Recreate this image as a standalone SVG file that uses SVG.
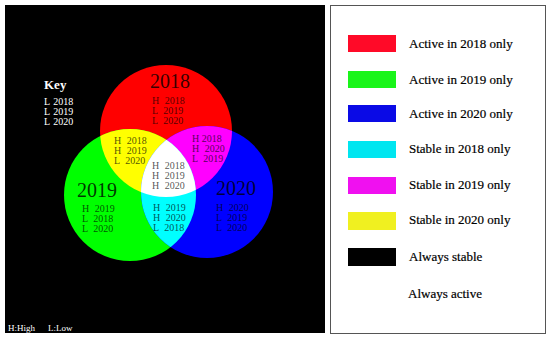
<svg xmlns="http://www.w3.org/2000/svg" width="550" height="340" viewBox="0 0 550 340">
<style>
.t{font-family:"Liberation Serif","Times New Roman",serif;font-size:10px;fill:#000;fill-opacity:0.7;word-spacing:3px}
.big{font-family:"Liberation Serif","Times New Roman",serif;font-size:20px;fill:#000;fill-opacity:0.8;text-anchor:middle}
.w{font-family:"Liberation Serif","Times New Roman",serif;fill:#fff}
.lg{font-family:"Liberation Serif","Times New Roman",serif;font-size:13px;fill:#000;stroke:#000;stroke-width:0.2px}
</style>
<defs>
<clipPath id="cR"><circle cx="166" cy="131" r="66"/></clipPath>
<clipPath id="cG"><circle cx="130" cy="195" r="66"/></clipPath>
</defs>
<rect x="0" y="0" width="550" height="340" fill="#fff"/>
<rect id="panel" x="5" y="5" width="320" height="328" fill="#000"/>
<g id="venn">
<circle id="c2018" cx="166" cy="131" r="66" fill="#ff0000"/>
<circle id="c2019" cx="130" cy="195" r="66" fill="#00ff00"/>
<circle id="c2020" cx="207" cy="192" r="66" fill="#0000ff"/>
<circle id="yellow" cx="130" cy="195" r="66" fill="#ffff00" clip-path="url(#cR)"/>
<circle id="magenta" cx="207" cy="192" r="66" fill="#ff00ff" clip-path="url(#cR)"/>
<circle id="cyan" cx="207" cy="192" r="66" fill="#00ffff" clip-path="url(#cG)"/>
<g clip-path="url(#cR)"><circle id="white" cx="207" cy="192" r="66" fill="#ffffff" clip-path="url(#cG)"/></g>
</g>
<g id="labels">
<text class="big" x="170" y="88">2018</text>
<text class="big" x="97" y="197">2019</text>
<text class="big" x="236" y="195">2020</text>
<text class="t" x="152" y="104">H 2018</text>
<text class="t" x="152" y="114">L 2019</text>
<text class="t" x="152" y="124">L 2020</text>
<text class="t" x="114" y="144">H 2018</text>
<text class="t" x="114" y="154">H 2019</text>
<text class="t" x="114" y="164">L 2020</text>
<text class="t" x="192" y="142" style="word-spacing:0">H 2018</text>
<text class="t" x="192" y="152">H 2020</text>
<text class="t" x="192" y="162">L 2019</text>
<text class="t" x="152" y="169">H 2018</text>
<text class="t" x="152" y="179">H 2019</text>
<text class="t" x="152" y="189">H 2020</text>
<text class="t" x="82" y="212">H 2019</text>
<text class="t" x="82" y="222">L 2018</text>
<text class="t" x="82" y="232">L 2020</text>
<text class="t" x="153" y="211">H 2019</text>
<text class="t" x="153" y="221">H 2020</text>
<text class="t" x="153" y="231">L 2018</text>
<text class="t" x="216" y="211">H 2020</text>
<text class="t" x="216" y="221">L 2019</text>
<text class="t" x="216" y="231">L 2020</text>
</g>
<g id="key">
<text class="w" x="44" y="89" font-size="13" font-weight="bold">Key</text>
<text class="w" x="44" y="105" font-size="10" word-spacing="1">L 2018</text>
<text class="w" x="44" y="115" font-size="10" word-spacing="1">L 2019</text>
<text class="w" x="44" y="125" font-size="10" word-spacing="1">L 2020</text>
<text class="w" x="8" y="331" font-size="9">H:High</text>
<text class="w" x="48" y="331" font-size="9">L:Low</text>
</g>
<g id="legend">
<rect x="330.5" y="5.5" width="215" height="328" fill="#fff" stroke="#555" stroke-width="1"/>
<rect x="348" y="35" width="48" height="17" fill="#ff0a28"/>
<rect x="348" y="71" width="48" height="17" fill="#1af51a"/>
<rect x="348" y="105" width="48" height="17" fill="#0a0ae6"/>
<rect x="348" y="141" width="48" height="17" fill="#00e6f0"/>
<rect x="348" y="177" width="48" height="17" fill="#f010f0"/>
<rect x="348" y="212" width="48" height="18" fill="#f0f020"/>
<rect x="348" y="248" width="48" height="18" fill="#000"/>
<text class="lg" x="409" y="48">Active in 2018 only</text>
<text class="lg" x="409" y="84">Active in 2019 only</text>
<text class="lg" x="409" y="118">Active in 2020 only</text>
<text class="lg" x="409" y="153">Stable in 2018 only</text>
<text class="lg" x="409" y="189">Stable in 2019 only</text>
<text class="lg" x="409" y="224">Stable in 2020 only</text>
<text class="lg" x="409" y="261">Always stable</text>
<text class="lg" x="408" y="298">Always active</text>
</g>
</svg>
